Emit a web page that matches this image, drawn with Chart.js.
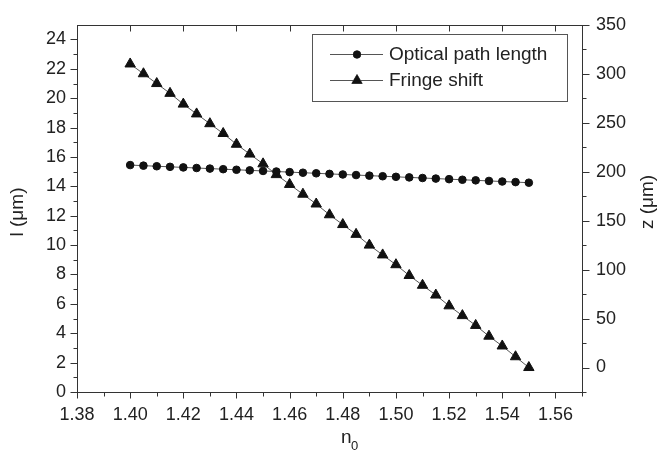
<!DOCTYPE html>
<html>
<head>
<meta charset="utf-8">
<script src="https://cdn.jsdelivr.net/npm/chart.js@4.4.1/dist/chart.umd.min.js"></script>
<style>
  html, body { margin: 0; padding: 0; background: #fff; }
</style>
</head>
<body>
<canvas id="chart" width="660" height="456"></canvas>
<script>
// refractive index n0 (x)
var n0 = [1.400, 1.405, 1.410, 1.415, 1.420, 1.425, 1.430, 1.435, 1.440, 1.445,
          1.450, 1.455, 1.460, 1.465, 1.470, 1.475, 1.480, 1.485, 1.490, 1.495,
          1.500, 1.505, 1.510, 1.515, 1.520, 1.525, 1.530, 1.535, 1.540, 1.545, 1.550];
// optical path length l (um), left axis
var pathLength = [15.45, 15.41, 15.37, 15.33, 15.29, 15.25, 15.21, 15.17, 15.13, 15.09,
                  15.05, 15.01, 14.97, 14.93, 14.89, 14.85, 14.81, 14.77, 14.73, 14.69,
                  14.65, 14.61, 14.57, 14.53, 14.49, 14.45, 14.41, 14.37, 14.33, 14.29, 14.25];
// fringe shift z (um), right axis
var fringeShift = [310, 300, 290, 280, 269, 259, 249, 239, 228, 218,
                   208, 197, 187, 177, 167, 156, 146, 136, 125, 115,
                   105, 94, 84, 74, 63, 53, 43, 32, 22, 11, 0];

var xTicks = [1.38, 1.40, 1.42, 1.44, 1.46, 1.48, 1.50, 1.52, 1.54, 1.56];
var leftTicks = [0, 2, 4, 6, 8, 10, 12, 14, 16, 18, 20, 22, 24];
var rightTicks = [0, 50, 100, 150, 200, 250, 300, 350];

var FONT = '"Liberation Sans", Arial, Helvetica, sans-serif';
var axisColor = '#333';
var textColor = '#222';

function pts(xs, ys) {
    return xs.map(function (x, i) { return { x: x, y: ys[i] }; });
}

// frame, tick marks, axis titles and legend box
var decorations = {
    id: 'decorations',
    afterDraw: function (chart) {
        var ctx = chart.ctx, a = chart.chartArea;
        var sx = chart.scales.x, sl = chart.scales.yL, sr = chart.scales.yR;
        var L = Math.round(a.left) + 0.5, R = Math.round(a.right) + 0.5;
        var T = Math.round(a.top) + 0.5, B = Math.round(a.bottom) + 0.5;
        ctx.save();
        ctx.strokeStyle = axisColor;
        ctx.lineWidth = 1;
        ctx.strokeRect(L, T, R - L, B - T);

        function seg(x1, y1, x2, y2) {
            ctx.beginPath(); ctx.moveTo(x1, y1); ctx.lineTo(x2, y2); ctx.stroke();
        }
        // bottom (outside) and top (inside) ticks
        xTicks.forEach(function (v) {
            var x = Math.round(sx.getPixelForValue(v)) + 0.5;
            seg(x, B, x, B + 6);
            seg(x, T, x, T + 6);
            var xm = Math.round(sx.getPixelForValue(v + 0.01)) + 0.5;
            seg(xm, B, xm, B + 4);
        });
        // left ticks
        leftTicks.forEach(function (v) {
            var y = Math.round(sl.getPixelForValue(v)) + 0.5;
            seg(L - 7, y, L, y);
            if (v < 24) {
                var ym = Math.round(sl.getPixelForValue(v + 1)) + 0.5;
                seg(L - 4, ym, L, ym);
            }
        });
        // right ticks
        rightTicks.forEach(function (v) {
            var y = Math.round(sr.getPixelForValue(v)) + 0.5;
            seg(R, y, R + 7, y);
            var ym = Math.round(sr.getPixelForValue(v - 25)) + 0.5;
            seg(R, ym, R + 4, ym);
        });

        // axis titles
        ctx.fillStyle = textColor;
        ctx.font = '19px ' + FONT;
        ctx.textBaseline = 'middle';
        ctx.textAlign = 'center';
        ctx.save();
        ctx.translate(18, 212);
        ctx.rotate(-Math.PI / 2);
        ctx.fillText('l (\u03bcm)', 0, 0);
        ctx.restore();
        ctx.save();
        ctx.translate(648, 202);
        ctx.rotate(-Math.PI / 2);
        ctx.fillText('z (\u03bcm)', 0, 0);
        ctx.restore();
        ctx.textAlign = 'left';
        ctx.fillText('n', 341, 438);
        ctx.font = '13px ' + FONT;
        ctx.fillText('0', 351, 446);

        // legend
        ctx.strokeStyle = '#555';
        ctx.strokeRect(312.5, 34.5, 255, 67);
        var rows = [54, 80];
        chart.data.datasets.forEach(function (ds, i) {
            var y = rows[i];
            ctx.strokeStyle = ds.borderColor;
            ctx.lineWidth = 1;
            seg(330, y + 0.5, 383, y + 0.5);
            Chart.helpers.drawPoint(ctx, {
                pointStyle: ds.pointStyle,
                radius: ds.pointRadius,
                borderWidth: 1
            }, 357, y + 0.5);
            ctx.fillStyle = '#111';
            ctx.fill();
            ctx.fillStyle = textColor;
            ctx.font = '19px ' + FONT;
            ctx.textAlign = 'left';
            ctx.fillText(ds.label, 389, y + 1);
        });
        ctx.restore();
    }
};

new Chart(document.getElementById('chart'), {
    type: 'line',
    data: {
        datasets: [{
            label: 'Optical path length',
            data: pts(n0, pathLength),
            yAxisID: 'yL',
            borderColor: '#555',
            borderWidth: 1,
            pointStyle: 'circle',
            pointRadius: 3.8,
            pointBackgroundColor: '#111',
            pointBorderColor: '#111',
            pointBorderWidth: 1
        }, {
            label: 'Fringe shift',
            data: pts(n0, fringeShift),
            yAxisID: 'yR',
            borderColor: '#555',
            borderWidth: 1,
            pointStyle: 'triangle',
            pointRadius: 6,
            pointBackgroundColor: '#111',
            pointBorderColor: '#111',
            pointBorderWidth: 1
        }]
    },
    options: {
        responsive: false,
        animation: false,
        layout: { padding: { top: 16, left: 0, right: 0, bottom: 0 } },
        plugins: { legend: { display: false }, tooltip: { enabled: false } },
        scales: {
            x: {
                type: 'linear',
                min: 1.38, max: 1.57,
                afterBuildTicks: function (s) { s.ticks = xTicks.map(function (v) { return { value: v }; }); },
                afterFit: function (s) { s.height = 64; },
                grid: { display: false, drawTicks: false },
                border: { display: false },
                ticks: {
                    padding: 12,
                    color: textColor,
                    font: { family: FONT, size: 18 },
                    maxRotation: 0,
                    autoSkip: false,
                    callback: function (v) { return v.toFixed(2); }
                }
            },
            yL: {
                type: 'linear',
                position: 'left',
                min: 0, max: 25,
                afterBuildTicks: function (s) { s.ticks = leftTicks.map(function (v) { return { value: v }; }); },
                afterFit: function (s) { s.width = 77; },
                grid: { display: false, drawTicks: false },
                border: { display: false },
                ticks: {
                    padding: 11,
                    color: textColor,
                    font: { family: FONT, size: 18 },
                    autoSkip: false
                }
            },
            yR: {
                type: 'linear',
                position: 'right',
                min: -25, max: 350,
                afterBuildTicks: function (s) { s.ticks = rightTicks.map(function (v) { return { value: v }; }); },
                afterFit: function (s) { s.width = 78; },
                grid: { display: false, drawTicks: false },
                border: { display: false },
                ticks: {
                    padding: 14,
                    color: textColor,
                    font: { family: FONT, size: 18 },
                    autoSkip: false
                }
            }
        }
    },
    plugins: [decorations]
});
</script>
</body>
</html>
